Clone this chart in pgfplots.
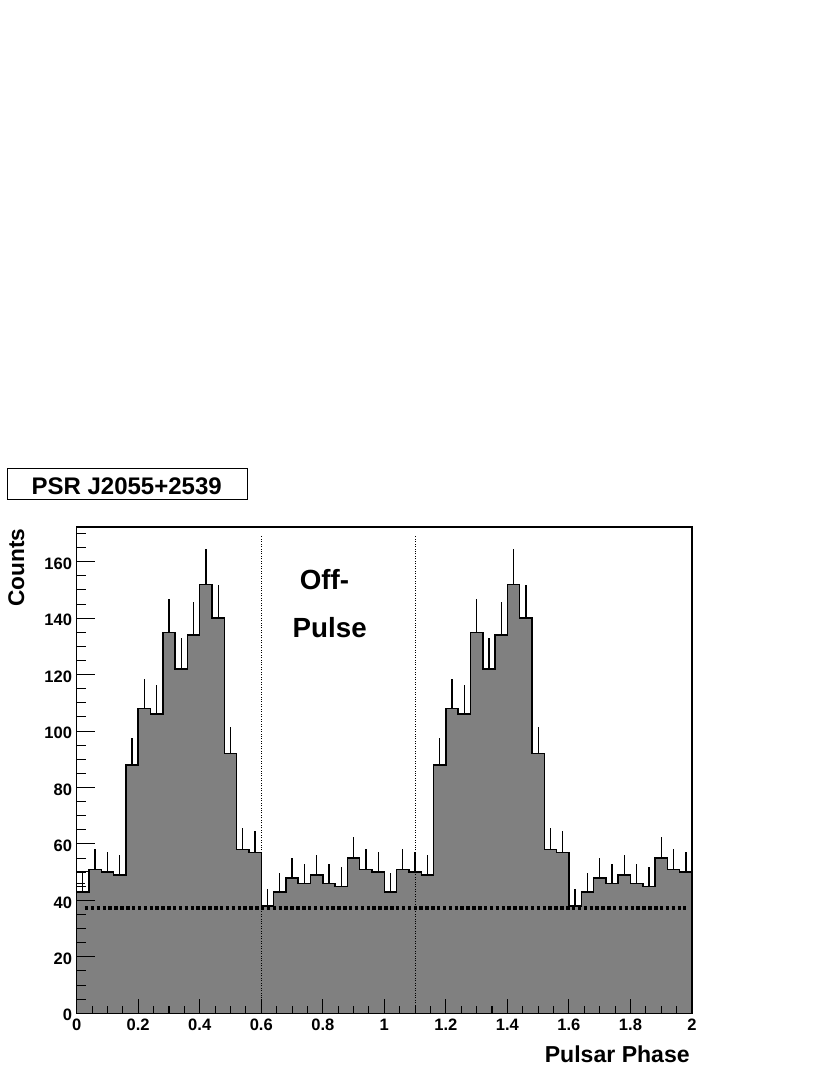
\documentclass[border=0pt]{standalone}
\usepackage{pgfplots}
\pgfplotsset{compat=1.18}
\usepackage{pgfplotstable}
\usepackage{fontspec}
\setmainfont{Liberation Sans}

\definecolor{histgray}{RGB}{128,128,128}

% phase histogram, 25 bins per cycle, left edge / counts / sqrt(counts)
\pgfplotstableread{
x y e
0.00 43 6.56
0.04 51 7.14
0.08 50 7.07
0.12 49 7.00
0.16 88 9.38
0.20 108 10.39
0.24 106 10.30
0.28 135 11.62
0.32 122 11.05
0.36 134 11.58
0.40 152 12.33
0.44 140 11.83
0.48 92 9.59
0.52 58 7.62
0.56 57 7.55
0.60 38 6.16
0.64 43 6.56
0.68 48 6.93
0.72 46 6.78
0.76 49 7.00
0.80 46 6.78
0.84 45 6.71
0.88 55 7.42
0.92 51 7.14
0.96 50 7.07
1.00 43 6.56
1.04 51 7.14
1.08 50 7.07
1.12 49 7.00
1.16 88 9.38
1.20 108 10.39
1.24 106 10.30
1.28 135 11.62
1.32 122 11.05
1.36 134 11.58
1.40 152 12.33
1.44 140 11.83
1.48 92 9.59
1.52 58 7.62
1.56 57 7.55
1.60 38 6.16
1.64 43 6.56
1.68 48 6.93
1.72 46 6.78
1.76 49 7.00
1.80 46 6.78
1.84 45 6.71
1.88 55 7.42
1.92 51 7.14
1.96 50 7.07
2.00 50 0
}\histdata

\pgfplotsset{
  rootframe/.style={
    at={(57.5pt,46.3pt)}, anchor=south west,
    scale only axis,
    width=461.5pt, height=364.7pt,
    xmin=0, xmax=2,
    ymin=0, ymax=172.3,
    tick pos=left,
    tick align=inside,
    every tick/.style={black, line width=0.8pt},
    axis line style={line width=0.9pt},
    /pgf/number format/assume math mode=true,
    ticklabel style={font=\fontsize{12.4}{14}\selectfont\bfseries, inner sep=0pt},
    clip=false,
  },
}

\begin{document}
\begin{tikzpicture}[x=0.75pt,y=0.75pt]
  \path[use as bounding box] (0,0) rectangle (830,1075);
  \begin{axis}[
      rootframe,
      axis on top,
      xtick={0,0.2,...,2},
      minor xtick={0,0.05,...,2},
      ytick=\empty,
      major tick length=10.5pt,
      minor tick length=5.25pt,
      xticklabel style={anchor=base, yshift=-13pt},
    ]
    \addplot[const plot, fill=histgray, draw=none] table[x=x, y=y] {\histdata} \closedcycle;
    \addplot[draw=none, mark=none, skip coords between index={50}{51},
      error bars/.cd, y dir=plus, y explicit, error mark=none,
      error bar style={black, line width=1pt}]
      table[x expr=\thisrow{x}+0.02, y=y, y error=e] {\histdata};
    \addplot[const plot, draw=black, line width=1.1pt, mark=none] table[x=x, y=y] {\histdata};
    % box drawn over the first bin
    \addplot[fill=white, draw=black, line width=0.8pt, mark=none] coordinates {(0,43) (0,50.1) (0.04,50.1) (0.04,43)} -- cycle;
    \addplot[black, line width=0.8pt, mark=none] coordinates {(0.02,43) (0.02,49.6)};
    \addplot[black, line width=0.8pt, mark=none] coordinates {(0,46) (0.028,46)};
    % background level
    \addplot[black, line width=2.4pt, dash pattern=on 2.6pt off 1.8pt, mark=none] coordinates {(0.027,37.3) (1.98,37.3)};
    % off-pulse window
    \addplot[black, line width=0.6pt, dash pattern=on 0.75pt off 1.1pt, mark=none] coordinates {(0.6,0) (0.6,169.5)};
    \addplot[black, line width=0.6pt, dash pattern=on 0.75pt off 1.1pt, mark=none] coordinates {(1.1,0) (1.1,169.5)};
  \end{axis}
  % y ticks are longer than x ticks
  \begin{axis}[
      rootframe,
      hide x axis,
      ytick={0,20,...,160},
      minor ytick={0,5,...,170},
      major tick length=13.5pt,
      minor tick length=7pt,
      yticklabel style={anchor=base east, xshift=-3.3pt, yshift=-5.8pt},
    ]
  \end{axis}
  % title box
  \draw[line width=0.8pt] (7.3,575.7) rectangle (247.7,606.7);
  \node[font=\fontsize{18}{20}\selectfont\bfseries, inner sep=0pt, anchor=base] at (126.7,580) {PSR J2055+2539};
  % axis titles
  \node[font=\fontsize{17}{19}\selectfont\bfseries, inner sep=0pt, rotate=90, anchor=base east] at (24,546.7) {Counts};
  \node[font=\fontsize{17.3}{19}\selectfont\bfseries, inner sep=0pt, anchor=base east] at (690,12.3) {Pulsar Phase};
  % annotation
  \node[font=\fontsize{20.8}{23}\selectfont\bfseries, inner sep=0pt, anchor=base] at (324.5,485) {Off-};
  \node[font=\fontsize{20.8}{23}\selectfont\bfseries, inner sep=0pt, anchor=base] at (329.7,437.8) {Pulse};
\end{tikzpicture}
\end{document}
